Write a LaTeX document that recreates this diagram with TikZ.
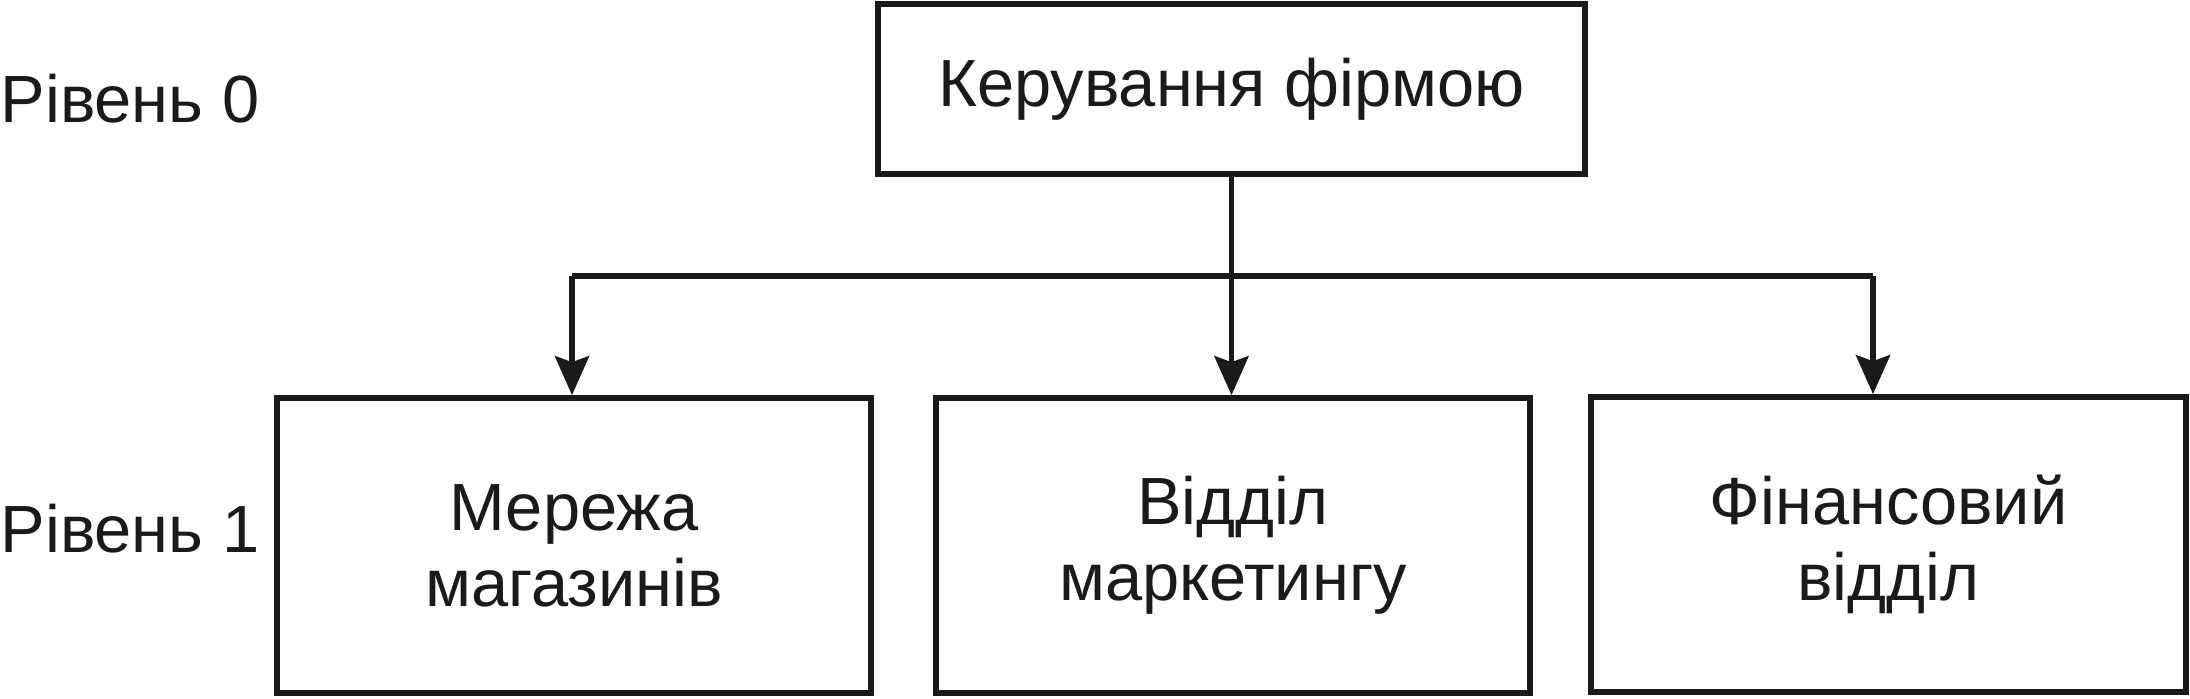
\documentclass[tikz,border=0pt]{standalone}
\usepackage{fontspec}
\setmainfont{Liberation Sans}
\usetikzlibrary{arrows.meta}
\definecolor{ink}{HTML}{1A1A1A}
\tikzset{
  unit/.style={draw=ink, text=ink, line width=1.6pt, inner sep=0pt, align=center,
    font=\fontsize{19}{21.6}\selectfont},
  level/.style={text=ink, inner sep=0pt, anchor=base west,
    font=\fontsize{19}{21.6}\selectfont},
  link/.style={draw=ink, line width=1.6pt},
  tip/.style={link, -{Stealth[length=3.9mm, width=3.4mm, inset=0.6mm]}}
}
\begin{document}
\begin{tikzpicture}
      \useasboundingbox (0,0) rectangle (21.9,6.98);
      \draw
        (0.0,5.76) node[level] (lvl0){Рівень 0}
        (0.0,1.46) node[level] (lvl1){Рівень 1};
      \draw
        (12.315,6.09) node[unit, minimum width=7.07cm, minimum height=1.70cm] (firm){Керування фірмою}
        (5.74,1.525) node[unit, minimum width=5.94cm, minimum height=2.95cm] (shops){Мережа\\магазинів}
        (12.33,1.525) node[unit, minimum width=5.94cm, minimum height=2.95cm] (mkt){Відділ\\маркетингу}
        (18.885,1.535) node[unit, minimum width=5.95cm, minimum height=2.95cm] (fin){Фінансовий\\відділ};
      \coordinate (busL) at (5.72,4.22);
      \coordinate (busR) at (18.73,4.22);
      \begin{scope}[link]
        \draw (busL) -- (busR);
        \draw[tip] (firm.south) -- (firm.south |- mkt.north);
        \draw[tip] (busL) -- (busL |- shops.north);
        \draw[tip] (busR) -- (busR |- fin.north);
      \end{scope}
    \end{tikzpicture}
\end{document}
